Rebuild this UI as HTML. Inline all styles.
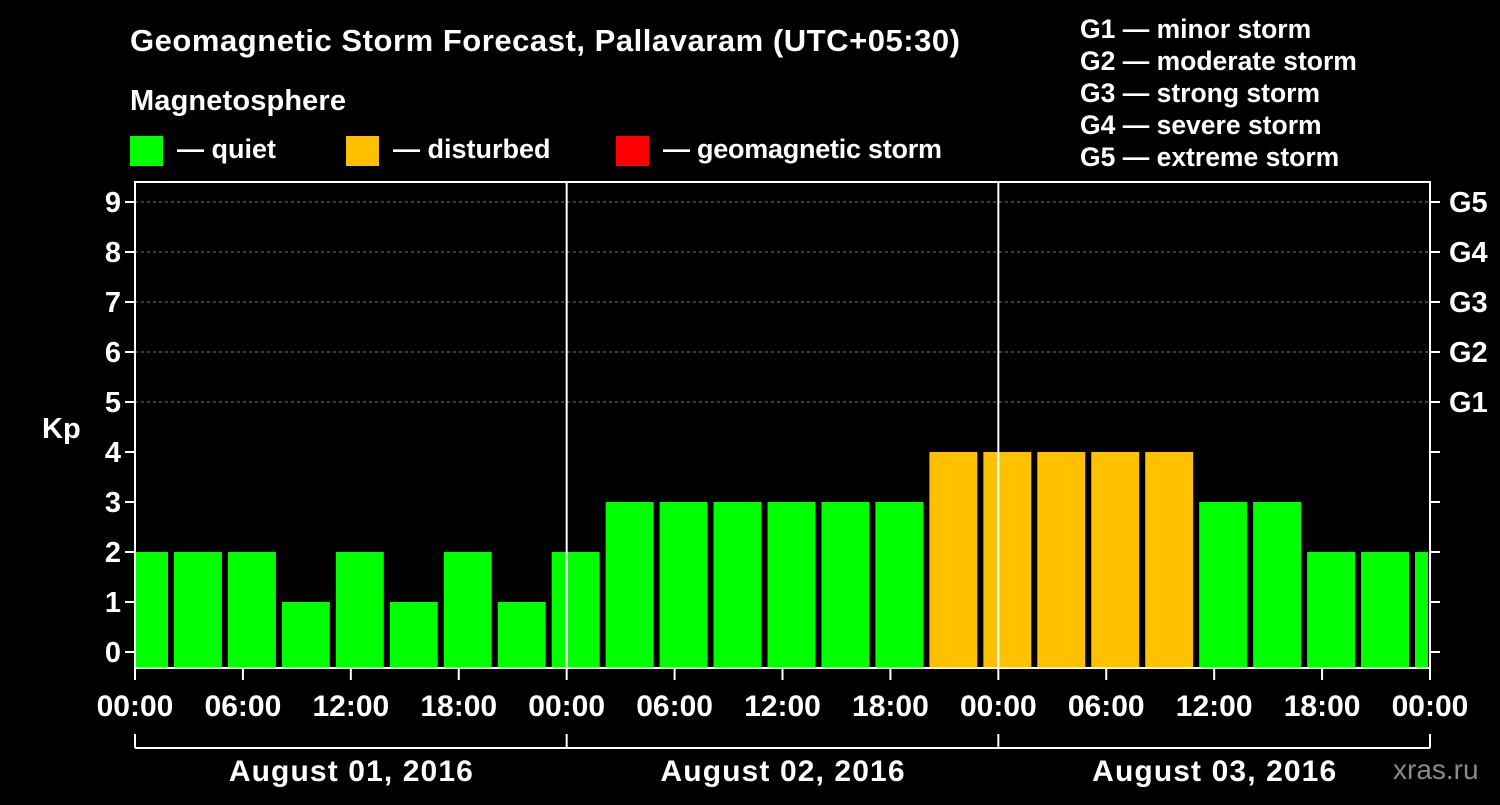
<!DOCTYPE html>
<html><head><meta charset="utf-8"><style>
body{margin:0;background:#000;width:1500px;height:800px;overflow:hidden;font-family:"Liberation Sans",sans-serif}
svg text{font-family:"Liberation Sans",sans-serif;font-weight:bold;fill:#fff}
</style></head><body>
<svg id="c" width="1500" height="800">
<text x="130" y="51" font-size="31" textLength="830">Geomagnetic Storm Forecast, Pallavaram (UTC+05:30)</text>
<text x="130" y="110" font-size="29" textLength="216">Magnetosphere</text>
<rect x="130" y="136" width="33" height="30" fill="#00ff00"/>
<text x="177" y="158" font-size="27">— quiet</text>
<rect x="346" y="136" width="33" height="30" fill="#ffc000"/>
<text x="393" y="158" font-size="27">— disturbed</text>
<rect x="616" y="136" width="33" height="30" fill="#ff0000"/>
<text x="663" y="158" font-size="27" textLength="279">— geomagnetic storm</text>
<g font-size="26.5">
<text x="1080" y="38">G1 — minor storm</text>
<text x="1080" y="70">G2 — moderate storm</text>
<text x="1080" y="102">G3 — strong storm</text>
<text x="1080" y="134">G4 — severe storm</text>
<text x="1080" y="166">G5 — extreme storm</text>
</g>
<text x="42" y="438" font-size="29">Kp</text>
<text x="1393" y="779" font-size="28" style="fill:#8a8a8a;font-weight:normal">xras.ru</text>
<g id="g"></g>
</svg>
<script>
const kpValues=[2,2,2,1,2,1,2,1,2,3,3,3,3,3,3,4,4,4,4,4,3,3,2,2,2];
const binStartHours=-1;
const hourLabels=["00:00","06:00","12:00","18:00","00:00","06:00","12:00","18:00","00:00","06:00","12:00","18:00","00:00"];
const dayLabels=["August 01, 2016","August 02, 2016","August 03, 2016"];
const gLabels=["G1","G2","G3","G4","G5"];
const X0=135,X1=1430,H=72,Y0=652,PY=50,TOP=182,BOT=668;
const x=h=>X0+(X1-X0)*h/H, y=v=>Y0-v*PY;
const g=document.getElementById('g'),NS='http://www.w3.org/2000/svg';
function mk(t,a,txt){const e=document.createElementNS(NS,t);for(const k in a)e.setAttribute(k,a[k]);if(txt!=null)e.textContent=txt;g.appendChild(e);return e;}
for(let v=5;v<=9;v++){const e=mk('line',{x1:X0,x2:X1,y1:y(v),y2:y(v),stroke:'#777','stroke-dasharray':'3,3'});

}
kpValues.forEach((v,i)=>{let s=binStartHours+3*i,e2=s+3;let a=Math.max(x(s)+3,X0+1),b=Math.min(x(e2)-3,X1-2);
const col=v>=5?'#ff0000':v>=4?'#ffc000':'#00ff00';
const r=mk('rect',{x:a,y:y(v),width:b-a,height:BOT-y(v),fill:col});

});
const f=mk('rect',{x:X0,y:TOP,width:X1-X0,height:BOT-TOP,fill:'none',stroke:'#fff','stroke-width':2});


[24,48].forEach(h=>{const l=mk('line',{x1:x(h),x2:x(h),y1:TOP,y2:BOT,stroke:'#fff','stroke-width':2});

});
for(let v=0;v<=9;v++){
mk('line',{x1:X0-10,x2:X0,y1:y(v),y2:y(v),stroke:'#fff','stroke-width':2});
mk('line',{x1:X1,x2:X1+10,y1:y(v),y2:y(v),stroke:'#fff','stroke-width':2});
const t=mk('text',{x:X0-14,y:y(v)+10,'font-size':29,'text-anchor':'end'},v);

}
gLabels.forEach((s,i)=>{const t=mk('text',{x:X1+19,y:y(5+i)+10,'font-size':29},s);

});
hourLabels.forEach((s,i)=>{const h=i*6;mk('line',{x1:x(h),x2:x(h),y1:BOT,y2:BOT+12,stroke:'#fff','stroke-width':2});
const t=mk('text',{x:x(h),y:716,'font-size':30,'text-anchor':'middle'},s);

});
mk('line',{x1:X0,x2:X1,y1:748,y2:748,stroke:'#fff','stroke-width':2});
[0,24,48,72].forEach(h=>mk('line',{x1:x(h),x2:x(h),y1:734,y2:748,stroke:'#fff','stroke-width':2}));
dayLabels.forEach((s,i)=>{const t=mk('text',{x:x(12+24*i),y:781,'font-size':30,'text-anchor':'middle',textLength:244},s);

});
</script>
</body></html>
